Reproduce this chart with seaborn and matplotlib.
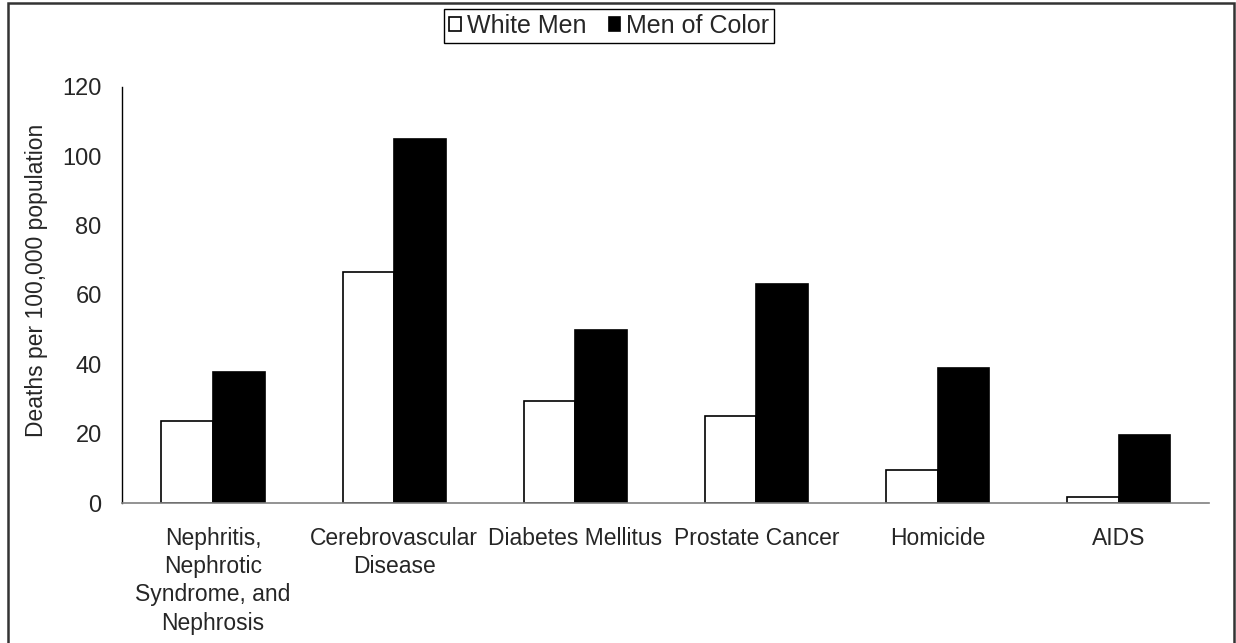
import matplotlib
matplotlib.use("Agg")
import matplotlib.pyplot as plt
import matplotlib.patches as mpatches
import seaborn as sns
import pandas as pd

causes = ["Nephritis,\nNephrotic\nSyndrome, and\nNephrosis",
          "Cerebrovascular\nDisease",
          "Diabetes Mellitus",
          "Prostate Cancer",
          "Homicide",
          "AIDS"]
white_men = [23.7, 66.6, 29.4, 25.1, 9.6, 1.6]
men_of_color = [37.9, 105.0, 50.0, 63.0, 39.0, 19.6]
groups = ["White Men", "Men of Color"]

df = pd.DataFrame({
    "cause": causes * 2,
    "rate": white_men + men_of_color,
    "group": [groups[0]] * len(causes) + [groups[1]] * len(causes),
})

sns.set_style("white")
plt.rcParams["font.family"] = ["Liberation Sans", "DejaVu Sans"]

fig = plt.figure(figsize=(12.36, 6.43), dpi=100)
ax = fig.add_axes([0.0991, 0.2177, 0.9784 - 0.0991, 0.8652 - 0.2177])

sns.barplot(data=df, x="cause", y="rate", hue="group",
            palette={"White Men": "white", "Men of Color": "black"},
            edgecolor="black", linewidth=1.2, width=0.57, ax=ax)

handles, labels = ax.get_legend_handles_labels()
ax.get_legend().remove()

ax.set_ylim(0, 120)
ax.set_yticks(range(0, 121, 20))
ax.set_xlim(-0.5, len(causes) - 0.5)
ax.set_xlabel("")
ax.set_ylabel("Deaths per 100,000 population", fontsize=16.5)
ax.yaxis.set_label_coords(-0.0683, 0.534)

# category ticks sit between groups
ax.set_xticks([i - 0.5 for i in range(len(causes) + 1)], minor=True)
ax.tick_params(axis="x", which="major", length=0, pad=17, labelsize=16.5)
ax.tick_params(axis="x", which="minor", length=8, width=1, color="#555555", direction="out")
ax.tick_params(axis="y", length=7, width=1, color="#808080", direction="out", pad=8, labelsize=17)
for lbl in ax.get_xticklabels():
    lbl.set_linespacing(1.3)

for s in ["top", "right"]:
    ax.spines[s].set_visible(False)
ax.spines["left"].set_color("black")
ax.spines["left"].set_linewidth(1)
ax.spines["bottom"].set_color("#808080")
ax.spines["bottom"].set_linewidth(1.2)

fig.legend(handles, labels, loc="center", bbox_to_anchor=(0.493, 0.9596), ncol=2,
           fontsize=18, frameon=True, fancybox=False, edgecolor="black",
           framealpha=1, handlelength=0.45, handleheight=0.45, handletextpad=0.25,
           columnspacing=0.9, borderpad=0.2)

# outer frame around the whole chart
fig.patches.append(mpatches.Rectangle((0.0067, -0.05), 0.992, 1.0446,
                                      transform=fig.transFigure, fill=False,
                                      edgecolor="#333333", linewidth=1.8))

fig.savefig("out.png", dpi=100)
